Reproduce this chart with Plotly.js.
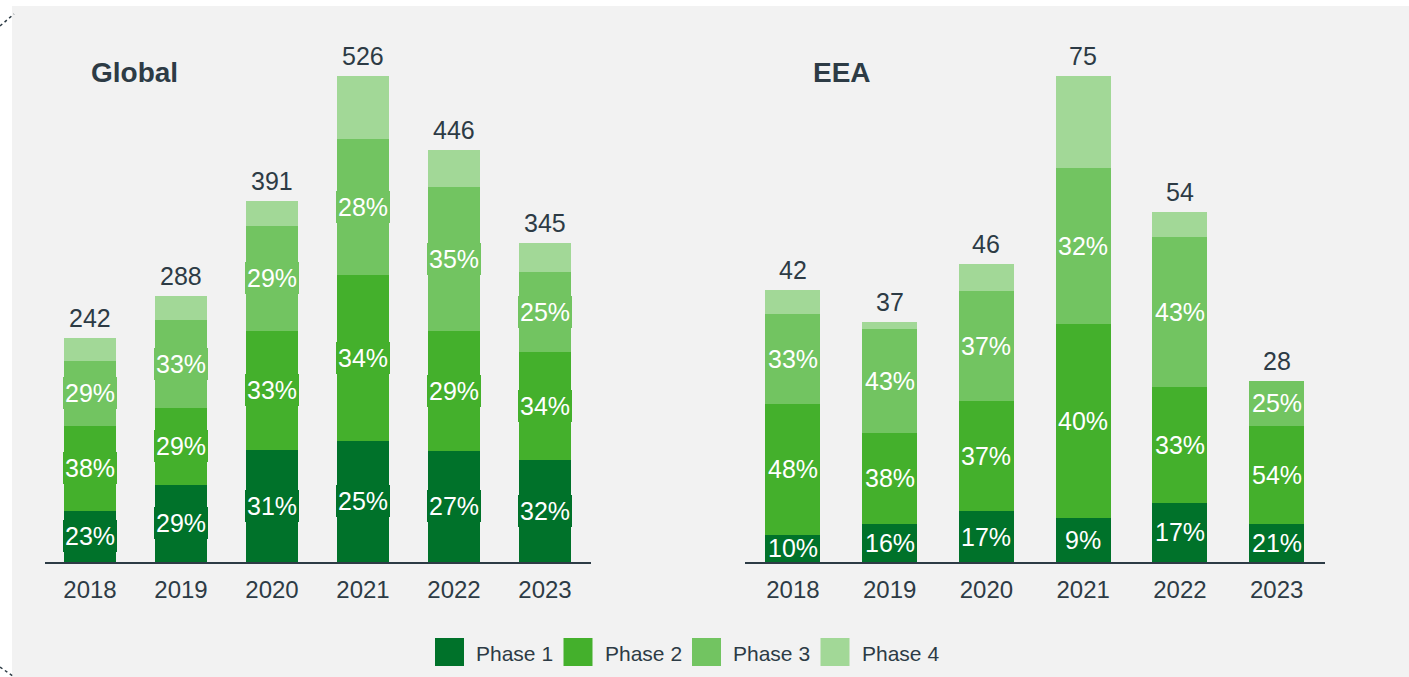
<!DOCTYPE html>
<html>
<head>
<meta charset="utf-8">
<script src="https://cdn.plot.ly/plotly-3.0.1.min.js"></script>
<style>
  body { margin: 0; padding: 0; background: #ffffff; }
  #chart { width: 1409px; height: 677px; }
</style>
</head>
<body>
<div id="chart"></div>
<script>
// data
const years = ['2018', '2019', '2020', '2021', '2022', '2023'];
const phases = ['Phase 1', 'Phase 2', 'Phase 3', 'Phase 4'];

const globalTotals = [242, 288, 391, 526, 446, 345];
const globalP1 = [23, 29, 31, 25, 27, 32];
const globalP2 = [38, 29, 33, 34, 29, 34];
const globalP3 = [29, 33, 29, 28, 35, 25];
const globalP4 = [10, 9, 7, 13, 9, 9];   // not labelled

const eeaTotals = [42, 37, 46, 75, 54, 28];
const eeaP1 = [10, 16, 17, 9, 17, 21];
const eeaP2 = [48, 38, 37, 40, 33, 54];
const eeaP3 = [33, 43, 37, 32, 43, 25];
const eeaP4 = [9, 3, 9, 19, 7, 0];       // not labelled

const colors = ['#00722a', '#44b02c', '#72c461', '#a2d897'];
const textDark = '#2d3b45';
const fontFam = '"Liberation Sans", Arial, sans-serif';

var W = 1409, H = 677;
function px(x){ return x / W; }
function py(y){ return 1 - y / H; }

// numeric positions for the categories, labelled with the years
var xpos = years.map(function(y, i){ return i; });

var traces = [];
var annotations = [];

function addPanel(totals, pcts, xa, ya, labelBox){
    var base = totals.map(function(){ return 0; });
    for (var p = 0; p < pcts.length; p++){
        var seg = totals.map(function(t, i){ return t * pcts[p][i] / 100; });
        traces.push({
            type: 'bar',
            x: xpos,
            y: seg,
            name: phases[p],
            xaxis: xa,
            yaxis: ya,
            marker: {color: colors[p], line: {width: 0}},
            showlegend: false,
            hoverinfo: 'none'
        });
        if (p < 3){
            for (var i = 0; i < years.length; i++){
                var a = {
                    x: xpos[i],
                    y: base[i] + seg[i] / 2,
                    xref: xa, yref: ya,
                    text: pcts[p][i] + '%',
                    showarrow: false,
                    font: {family: fontFam, size: 25, color: '#ffffff'},
                    borderpad: 2,
                    borderwidth: 0
                };
                if (labelBox) a.bgcolor = colors[p];
                annotations.push(a);
            }
        }
        base = base.map(function(b, i){ return b + seg[i]; });
    }
    for (var i = 0; i < years.length; i++){
        annotations.push({
            x: xpos[i], y: totals[i],
            xref: xa, yref: ya,
            yanchor: 'bottom',
            yshift: 4,
            text: String(totals[i]),
            showarrow: false,
            font: {family: fontFam, size: 25, color: textDark}
        });
    }
}

addPanel(globalTotals, [globalP1, globalP2, globalP3, globalP4], 'x', 'y', true);
addPanel(eeaTotals, [eeaP1, eeaP2, eeaP3, eeaP4], 'x2', 'y2', false);

// panel titles
annotations.push({xref: 'paper', yref: 'paper', x: px(89), y: py(72), xanchor: 'left', yanchor: 'middle',
    text: '<b>Global</b>', showarrow: false, font: {family: fontFam, size: 28, color: textDark}});
annotations.push({xref: 'paper', yref: 'paper', x: px(811), y: py(72), xanchor: 'left', yanchor: 'middle',
    text: '<b>EEA</b>', showarrow: false, font: {family: fontFam, size: 28, color: textDark}});

var shapes = [];
// grey panel background
shapes.push({type: 'rect', xref: 'paper', yref: 'paper', x0: px(12), x1: 1, y0: 0, y1: py(6),
    fillcolor: '#f2f2f2', line: {width: 0}, layer: 'below'});
// little corner marks
shapes.push({type: 'line', xref: 'paper', yref: 'paper', x0: px(0), y0: py(26), x1: px(14), y1: py(14),
    line: {color: textDark, width: 1.5, dash: 'dot'}});
shapes.push({type: 'line', xref: 'paper', yref: 'paper', x0: px(0), y0: py(667), x1: px(14), y1: py(677),
    line: {color: textDark, width: 1.5, dash: 'dot'}});

// legend drawn by hand so the swatches can be big squares
var legX = 435, legStep = 128.5;
for (var p = 0; p < phases.length; p++){
    var lx = legX + p * legStep;
    shapes.push({type: 'rect', xref: 'paper', yref: 'paper', x0: px(lx), x1: px(lx + 29), y0: py(666), y1: py(638),
        fillcolor: colors[p], line: {width: 0}});
    annotations.push({xref: 'paper', yref: 'paper', x: px(lx + 39), y: py(653), xanchor: 'left', yanchor: 'middle',
        text: phases[p], showarrow: false, font: {family: fontFam, size: 21, color: textDark}});
}

var yTop = 40, yBot = 562;
function xaxisStyle(dom, anchor){
    return {
        domain: dom,
        anchor: anchor,
        type: 'linear',
        range: [-0.5, years.length - 0.5],
        autorange: false,
        tickmode: 'array',
        tickvals: xpos,
        ticktext: years,
        showline: true, linecolor: textDark, linewidth: 2,
        showgrid: false, zeroline: false, ticks: '',
        ticklabelstandoff: 5,
        tickfont: {family: fontFam, size: 24, color: textDark},
        fixedrange: true
    };
}
var layout = {
    width: W, height: H,
    margin: {l: 0, r: 0, t: 0, b: 0},
    paper_bgcolor: '#ffffff',
    plot_bgcolor: 'rgba(0,0,0,0)',
    barmode: 'stack',
    bargap: 0.43,
    showlegend: false,
    xaxis: xaxisStyle([px(44.5), px(590.5)], 'y'),
    xaxis2: xaxisStyle([px(744.5), px(1325)], 'y2'),
    yaxis: {domain: [py(yBot), py(yTop)], range: [0, 526 * (yBot - yTop) / 486], autorange: false,
        visible: false, fixedrange: true},
    yaxis2: {domain: [py(yBot), py(yTop)], range: [0, 75 * (yBot - yTop) / 486], autorange: false,
        visible: false, fixedrange: true},
    annotations: annotations,
    shapes: shapes,
    font: {family: fontFam, color: textDark}
};

Plotly.newPlot('chart', traces, layout, {displayModeBar: false, staticPlot: true});
</script>
</body>
</html>
